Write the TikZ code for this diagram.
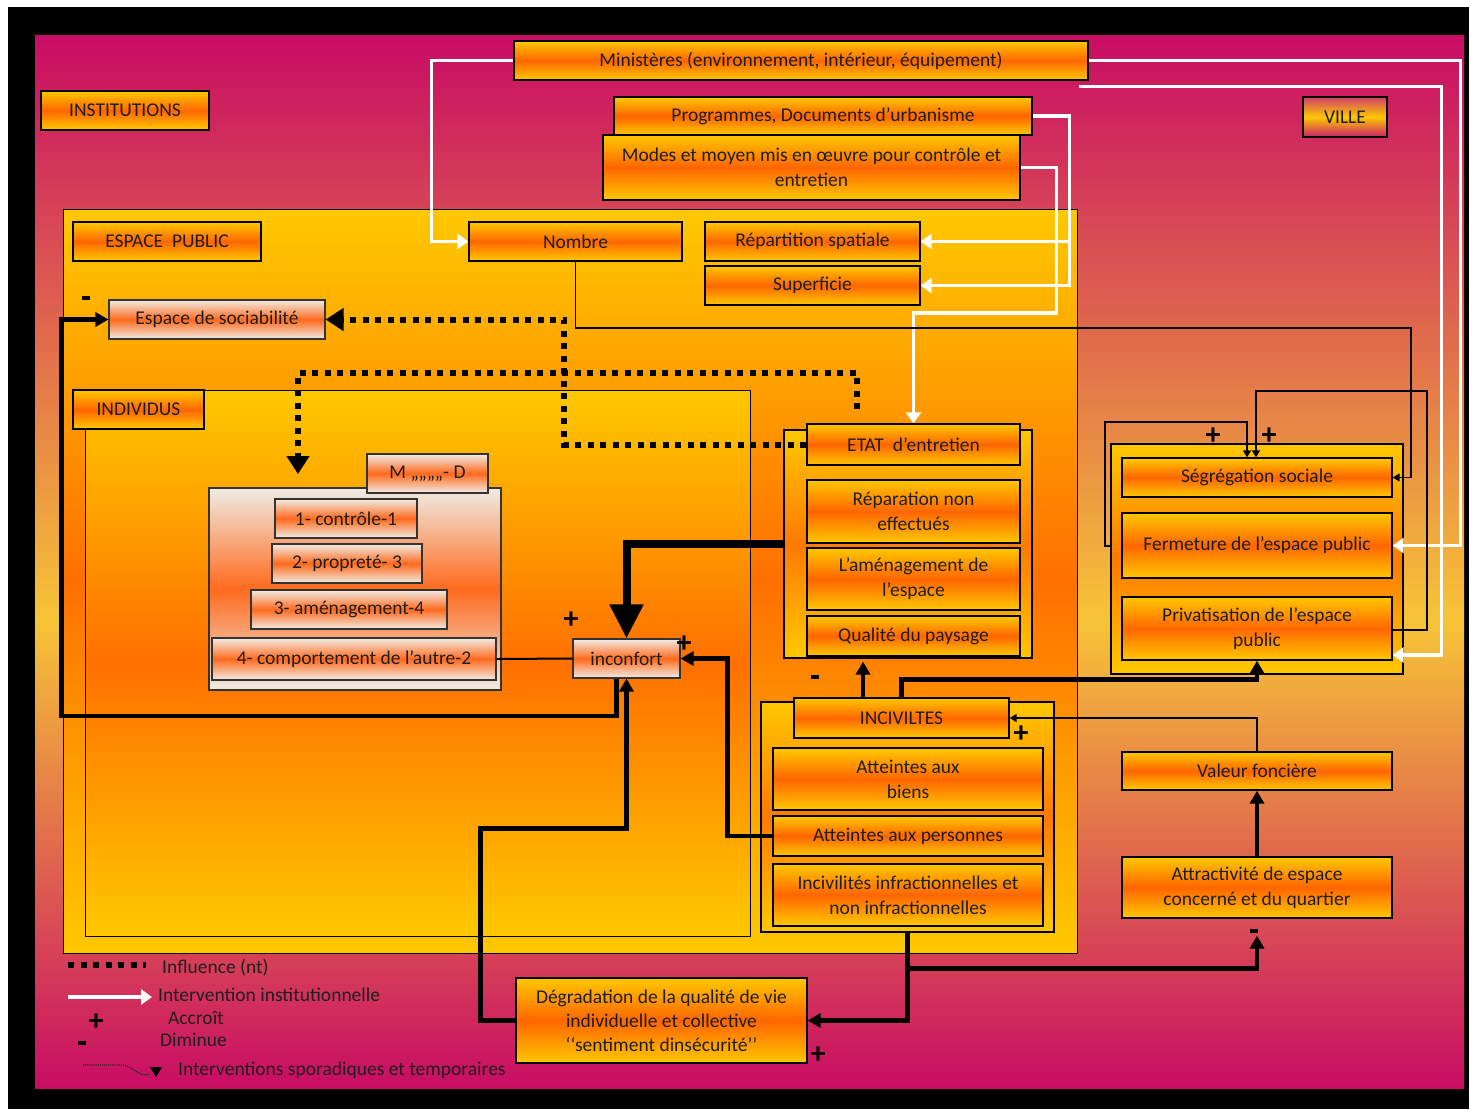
\documentclass[tikz,border=0pt]{standalone}
\usepackage{fontspec}
\setmainfont{Carlito}
\usetikzlibrary{arrows.meta,calc}
\definecolor{yel}{HTML}{FFC800}
\definecolor{org}{HTML}{FF6600}
\definecolor{mag}{HTML}{C80C64}
\definecolor{bgmid}{HTML}{F7C437}
\definecolor{wht}{HTML}{F0ECE4}
\definecolor{redo}{HTML}{FF6A1E}
\definecolor{ink}{HTML}{1E1E1E}
\definecolor{vtop}{HTML}{D0406A}
\definecolor{vbot}{HTML}{C8206A}
\newcommand\lab{\fontsize{19.5}{25}\selectfont}
\newcommand\sgn{\fontsize{30}{30}\selectfont\bfseries}
\begin{document}
\begin{tikzpicture}[x=1pt,y=-1pt,
  ob/.style={draw=black, line width=1.3pt, top color=yel, bottom color=yel, middle color=org, text=ink, font=\lab, align=center, inner sep=0pt},
  wb/.style={draw=black!80, line width=1.1pt, top color=wht, bottom color=wht, middle color=redo, text=ink, font=\lab, align=center, inner sep=0pt},
  vb/.style={draw=black, line width=1.3pt, top color=vtop, bottom color=vbot, middle color=yel, text=ink, font=\lab, align=center, inner sep=0pt},
  grp/.style={draw=black, line width=1.1pt, top color=yel, bottom color=yel, middle color=org!80!yel, inner sep=0pt},
  big/.style={draw=black, line width=1pt, top color=yel, bottom color=yel, middle color=org!90!yel, inner sep=0pt},
  wa/.style={draw=white, line width=3.5pt, -{Triangle[length=11pt,width=15pt]}},
  tl/.style={draw=black, line width=1.6pt, -{Triangle[length=7pt,width=8pt]}},
  tk/.style={draw=black, line width=4.5pt, -{Triangle[length=13pt,width=14pt]}},
  tkb/.style={draw=black, line width=8pt, -{Triangle[length=34pt,width=32pt]}},
  dt/.style={draw=black, line width=6pt, dash pattern=on 6pt off 6.5pt},
  dta/.style={dt, -{Triangle[length=18pt,width=22pt]}},
  sg/.style={font=\sgn, inner sep=0pt, text=black},
  mn/.style={fill=black, minimum width=8pt, minimum height=3.5pt, inner sep=0pt},
  lg/.style={font=\fontsize{19.5}{20}\selectfont, text=ink, anchor=west, inner sep=0pt}
]
\useasboundingbox (0,0) rectangle (1471,1109);
% background
\fill[white] (0,0) rectangle (1471,1109);
\fill[black] (8,7) rectangle (1469,1109);
\shade[top color=mag, bottom color=bgmid] (35,35) rectangle (1464,620);
\shade[top color=bgmid, bottom color=mag] (35,620) rectangle (1464,1088);

% containers
\node[big, minimum width=1014, minimum height=744] (espB) at (570,581) {};
\node[big, minimum width=665, minimum height=546] (indB) at (417.5,663) {};
\node[wb, minimum width=292, minimum height=202] (mcont) at (355,589) {};
\node[grp, minimum width=248, minimum height=228] (etatG) at (908,544) {};
\node[grp, minimum width=293, minimum height=230] (incG) at (907.5,817) {};
\node[grp, minimum width=292, minimum height=230] (rgrp) at (1257,559) {};

% nodes
\node[ob, minimum width=168, minimum height=39] (inst) at (125,110.5) {INSTITUTIONS};
\node[ob, minimum width=574, minimum height=39] (mini) at (801,60.5) {Ministères (environnement, intérieur, équipement)};
\node[ob, minimum width=418, minimum height=38] (prog) at (823,116) {Programmes, Documents d’urbanisme};
\node[ob, minimum width=417, minimum height=65] (modes) at (811.5,167.5) {Modes et moyen mis en œuvre pour contrôle et\\entretien};
\node[vb, minimum width=84, minimum height=40] (ville) at (1345,117) {VILLE};
\node[ob, minimum width=188, minimum height=39] (esp) at (167,241.5) {ESPACE\ \ PUBLIC};
\node[ob, minimum width=213, minimum height=39] (nombre) at (575.5,241.5) {Nombre};
\node[ob, minimum width=215, minimum height=39] (repart) at (812.5,241.5) {Répartition spatiale};
\node[ob, minimum width=215, minimum height=39] (superf) at (812.5,285.5) {Superficie};
\node[wb, minimum width=216, minimum height=39] (sociab) at (217,319.5) {Espace de sociabilité};
\node[ob, minimum width=131, minimum height=39] (indiv) at (138.5,409.5) {INDIVIDUS};
\node[wb, minimum width=121, minimum height=39] (mbox) at (427.5,473.5) {M ,,,,,,,,- D};
\node[wb, minimum width=142, minimum height=39] (c1) at (346,518.5) {1- contrôle-1};
\node[wb, minimum width=150, minimum height=39] (c2) at (347,563.5) {2- propreté- 3};
\node[wb, minimum width=196, minimum height=39] (c3) at (349,609.5) {3- aménagement-4};
\node[wb, minimum width=284, minimum height=42] (c4) at (354,659) {4- comportement de l’autre-2};
\node[wb, minimum width=107, minimum height=39] (inconf) at (626.5,658.5) {inconfort};
\node[ob, minimum width=213, minimum height=41] (etat) at (913.5,444.5) {ETAT\ \ d’entretien};
\node[ob, minimum width=213, minimum height=63] (repar) at (913.5,511.5) {Réparation non\\effectués};
\node[ob, minimum width=213, minimum height=62] (amen) at (913.5,579) {L’aménagement de\\l'espace};
\node[ob, minimum width=213, minimum height=40] (qual) at (913.5,636) {Qualité du paysage};
\node[ob, minimum width=215, minimum height=40] (incivl) at (901.5,718) {INCIVILTES};
\node[ob, minimum width=270, minimum height=62] (biens) at (908,779) {Atteintes aux\\biens};
\node[ob, minimum width=270, minimum height=40] (pers) at (908,836) {Atteintes aux personnes};
\node[ob, minimum width=270, minimum height=62] (infr) at (908,895) {Incivilités infractionnelles et\\non infractionnelles};
\node[ob, minimum width=270, minimum height=39] (segr) at (1257,477.5) {Ségrégation sociale};
\node[ob, minimum width=270, minimum height=65] (ferm) at (1257,545.5) {Fermeture de l’espace public};
\node[ob, minimum width=270, minimum height=63] (priv) at (1257,628.5) {Privatisation de l’espace\\public};
\node[ob, minimum width=270, minimum height=38] (valeur) at (1257,771) {Valeur foncière};
\node[ob, minimum width=270, minimum height=61] (attr) at (1257,887.5) {Attractivité de espace\\concerné et du quartier};
\node[ob, minimum width=291, minimum height=85, font=\fontsize{19.5}{24}\selectfont] (degr) at (661.5,1020.5) {Dégradation de la qualité de vie\\individuelle et collective\\‘‘sentiment dinsécurité’’};

% white institutional interventions
\draw[wa] (mini.west) -- ++(-82,0) |- (nombre.west);
\draw[wa] (mini.east) -- ++(372,0) |- (ferm.east);
\draw[wa] ($(mini.south east)+(-10,6)$) -- ++(363,0) |- ($(priv.east)+(0,26.5)$);
\draw[wa] (prog.east) -- ++(37,0) |- (superf.east);
\coordinate (pj) at (1069,241.5);
\draw[wa] (pj) -- (repart.east);
\draw[wa] (modes.east) -- ++(36,0) -- ++(0,145.5) -| (etat.north);

% thin black links
\draw[tl] (nombre.south) |- (1411,328) |- (segr.east);
\draw[tl] ($(priv.east)+(0,1.5)$) -- (1427,630) -- (1427,391) -- (1256,391) -- ($(segr.north)+(-1,0)$);
\draw[tl] ($(rgrp.west)+(0,-13)$) -- (1105,546) -- (1105,422) -- (1247,422) -- ($(segr.north)+(-10,0)$);
\draw[tl] (valeur.north) |- (incivl.east);
\draw[draw=black, line width=2pt] (c4.east) -- (inconf.west);

% thick black links
\draw[tk] ($(inconf.south)+(-10,0)$) |- (61,716) |- (sociab.west);
\draw[tkb] (etatG.west) -| (inconf.north);
\draw[tk] (pers.west) -- ++(-45,0) |- (inconf.east);
\draw[tk] (degr.west) -- ++(-35,0) |- ($(inconf.south)+(0,150)$) -- (inconf.south);
\draw[tk, shorten >=3pt] ($(incivl.north)+(-38.5,0)$) -- ($(etatG.south)+(-45,0)$);
\draw[tk] (incivl.north) -- ++(0,-18) -| (priv.south);
\draw[tk] (incG.south) -- ++(0,36) -| ($(attr.south)+(0,17)$);
\draw[tk] (incG.south) |- (degr.east);
\draw[tk] (attr.north) -- (valeur.south);

% dotted influence links
\draw[dta] (etat.west) -- ++(-242,0) |- (sociab.east);
\coordinate (dtop) at ($(etat.north)+(-56.5,-14)$);
\coordinate (dend) at (298,474);
\draw[dta] (dtop) |- (298,373) -- (dend);

% signs
\node[mn] (s1) at (86,298) {};
\node[sg] (s2) at (571,620) {+};
\node[sg] (s3) at (684,644) {+};
\node[mn] (s4) at (815,677) {};
\node[sg] (s5) at (1021,734) {+};
\node[sg] (s6) at (1213,436) {+};
\node[sg] (s7) at (1269,436) {+};
\node[mn] (s8) at (1254,931) {};
\node[sg] (s9) at (818,1055) {+};

% legend
\coordinate (l1a) at (68,965); \coordinate (l1b) at (146,965);
\draw[dt] (l1a) -- (l1b);
\node[lg] (lt1) at (162,968) {Influence (nt)};
\coordinate (l2a) at (68,997); \coordinate (l2b) at (152,997);
\draw[wa] (l2a) -- (l2b);
\node[lg] (lt2) at (158,995) {Intervention institutionnelle};
\node[sg] (lp) at (96,1022) {+};
\node[lg] (lt3) at (168,1018) {Accroît};
\node[mn] (lm) at (82,1043) {};
\node[lg] (lt4) at (160,1040) {Diminue};
\coordinate (l5a) at (83,1065);
\draw[black!85, densely dotted, line width=1.1pt] (l5a) -- (122,1065) .. controls (134,1066) and (138,1078) .. (150,1074);
\fill[black] (150,1067) -- (162,1067) -- (156,1077) -- cycle;
\node[lg] (lt5) at (178,1070) {Interventions sporadiques et temporaires};
\end{tikzpicture}
\end{document}
